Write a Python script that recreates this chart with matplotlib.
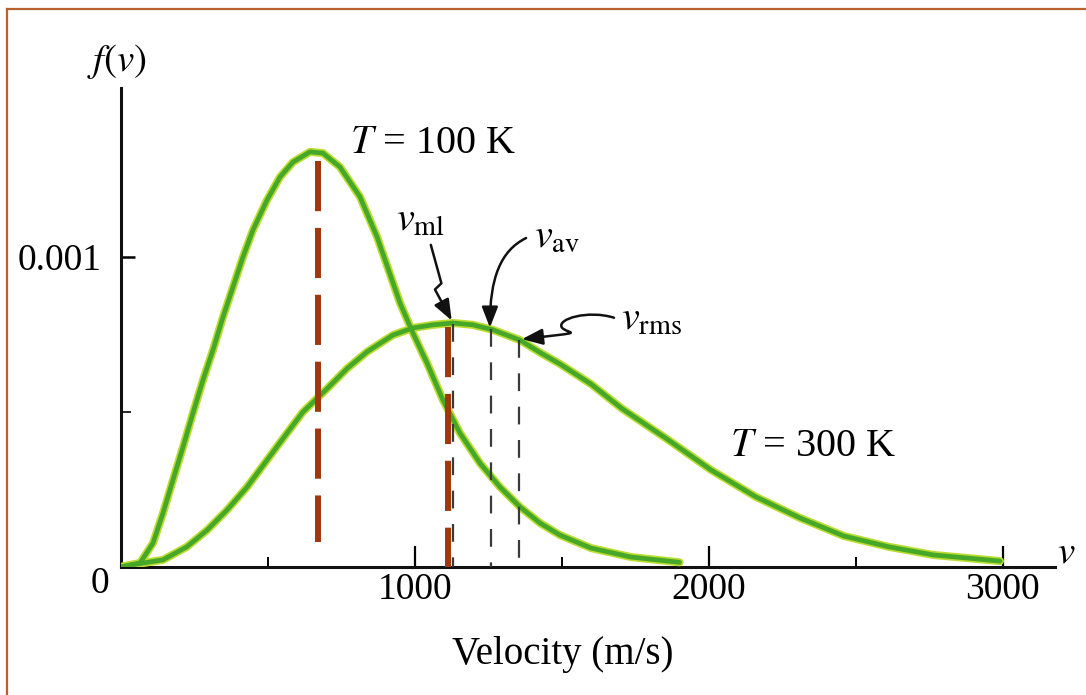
import matplotlib
matplotlib.use("Agg")
import matplotlib.pyplot as plt
from matplotlib.lines import Line2D
from matplotlib.patches import FancyArrowPatch
from matplotlib.path import Path
from matplotlib.ticker import FixedLocator

plt.rcParams["font.family"] = "serif"
plt.rcParams["font.serif"] = ["Liberation Serif", "DejaVu Serif"]
plt.rcParams["mathtext.fontset"] = "stix"

# curve values (v in m/s, f(v) in units of 1e-3 s/m)
v_100 = [0, 65, 109, 143, 177, 211, 245, 279, 313, 347, 381, 415, 449, 497,
         541, 585, 643, 687, 745, 813, 871, 949, 993, 1041, 1095, 1153, 1221,
         1289, 1357, 1425, 1493, 1599, 1735, 1900]
f_100 = [0, 0.013, 0.077, 0.174, 0.281, 0.387, 0.497, 0.603, 0.700, 0.806,
         0.903, 1.000, 1.087, 1.184, 1.258, 1.306, 1.339, 1.335, 1.290, 1.194,
         1.065, 0.852, 0.755, 0.658, 0.539, 0.432, 0.335, 0.258, 0.194, 0.142,
         0.103, 0.061, 0.032, 0.015]

v_300 = [0, 31, 143, 224, 293, 361, 429, 497, 565, 619, 701, 769, 837, 925,
         993, 1061, 1129, 1197, 1265, 1357, 1425, 1493, 1599, 1704, 1857, 2007,
         2160, 2310, 2459, 2612, 2762, 2990]
f_300 = [0, 0.006, 0.023, 0.065, 0.119, 0.184, 0.258, 0.345, 0.432, 0.500,
         0.575, 0.640, 0.694, 0.748, 0.771, 0.781, 0.787, 0.781, 0.765, 0.732,
         0.692, 0.655, 0.590, 0.511, 0.413, 0.313, 0.226, 0.158, 0.100, 0.065,
         0.039, 0.019]

# characteristic speeds
vp_100, vp_100_top, vp_100_bot = 670, 1.31, 0.08
vp_300, vp_300_top = 1112, 0.775
speeds_300 = [1129, 1259, 1354]          # v_ml, v_av, v_rms
speeds_300_top = [0.785, 0.767, 0.733]

x_major = [1000, 2000, 3000]
x_minor = [500, 1500, 2500]
y_major = [1.0]
y_minor = [0.5]

fig = plt.figure(figsize=(10.86, 6.95), dpi=100)
ax = fig.add_axes([0.1114, 0.1842, 0.8600, 0.6892])
ax.set_xlim(0, 3177)
ax.set_ylim(0, 1.545)

for s in ["top", "right"]:
    ax.spines[s].set_visible(False)
for s in ["left", "bottom"]:
    ax.spines[s].set_linewidth(2.2)
    ax.spines[s].set_color("#111111")

ax.xaxis.set_major_locator(FixedLocator(x_major))
ax.xaxis.set_minor_locator(FixedLocator(x_minor))
ax.yaxis.set_major_locator(FixedLocator(y_major))
ax.yaxis.set_minor_locator(FixedLocator(y_minor))
ax.set_xticklabels([str(t) for t in x_major])
ax.set_yticklabels(["0.001"])
ax.tick_params(axis="x", which="major", direction="in", length=15, width=1.6,
               labelsize=27, pad=4)
ax.tick_params(axis="x", which="minor", direction="in", length=7.5, width=1.4)
ax.tick_params(axis="y", which="major", direction="in", length=10, width=1.8,
               labelsize=27, pad=14)
ax.tick_params(axis="y", which="minor", direction="in", length=7, width=1.2)

# curves: lime halo plus green core
for vv, ff in [(v_100, f_100), (v_300, f_300)]:
    ax.plot(vv, ff, color="#bcdc30", lw=5.8, solid_capstyle="round",
            solid_joinstyle="round", zorder=3)
    ax.plot(vv, ff, color="#45a829", lw=3.4, solid_capstyle="round",
            solid_joinstyle="round", zorder=4)

brown = "#a0380c"
ax.plot([vp_100, vp_100], [vp_100_top, vp_100_bot], color=brown, lw=4.3,
        ls=(0, (8.4, 2.8)), zorder=5)
ax.plot([vp_300, vp_300], [vp_300_top, 0], color=brown, lw=4.3,
        ls=(0, (8.4, 2.8)), zorder=5)
for sv, st in zip(speeds_300, speeds_300_top):
    ax.plot([sv, sv], [st, 0], color="#3a3a3a", lw=1.6, ls=(0, (8, 7)),
            zorder=5)

ax.text(779, 1.367, "$T$ = 100 K", fontsize=29, ha="left", va="center")
ax.text(2071, 0.389, "$T$ = 300 K", fontsize=29, ha="left", va="center")

# speed labels with arrows
ax.text(935, 1.115, r"$v_{\rm ml}$", fontsize=29, ha="left", va="center")
ax.text(1405, 1.065, r"$v_{\rm av}$", fontsize=29, ha="left", va="center")
ax.text(1701, 0.795, r"$v_{\rm rms}$", fontsize=29, ha="left", va="center")

arrow_kw = dict(arrowstyle="-|>,head_length=0.9,head_width=0.35",
                color="#111111", lw=1.8, mutation_scale=14, zorder=6)
ml_path = Path([(1054, 1.039), (1090, 0.915), (1068, 0.895), (1125, 0.795)],
               [Path.MOVETO, Path.LINETO, Path.LINETO, Path.LINETO])
ax.add_patch(FancyArrowPatch(path=ml_path, **arrow_kw))
av_path = Path([(1378, 1.061), (1290, 1.02), (1255, 0.93), (1255, 0.772)],
               [Path.MOVETO, Path.CURVE4, Path.CURVE4, Path.CURVE4])
ax.add_patch(FancyArrowPatch(path=av_path, **arrow_kw))
rms_path = Path([(1677, 0.804), (1590, 0.83), (1480, 0.80),
                 (1500, 0.772), (1520, 0.75), (1600, 0.76),
                 (1364, 0.735)],
                [Path.MOVETO, Path.CURVE4, Path.CURVE4, Path.CURVE4,
                 Path.CURVE4, Path.CURVE4, Path.CURVE4])
ax.add_patch(FancyArrowPatch(path=rms_path, **arrow_kw))

# axis texts
ax.annotate("0", xy=(0, 0), xytext=(-15, -12), textcoords="offset points",
            fontsize=27, ha="center", va="center", annotation_clip=False)
fig.text(0.1077, 0.911, "$f(v)$", fontsize=28, ha="center", va="center")
fig.text(0.982, 0.205, "$v$", fontsize=28, ha="center", va="center")
fig.text(0.5184, 0.0576, "Velocity (m/s)", fontsize=28, ha="center",
         va="center")

# outer frame
frame_c = "#b8602e"
fig.add_artist(Line2D([0.0064, 1.0], [0.987, 0.987], color=frame_c, lw=1.6,
                      transform=fig.transFigure))
fig.add_artist(Line2D([0.0064, 0.0064], [0.0, 0.987], color=frame_c, lw=1.6,
                      transform=fig.transFigure))

fig.savefig("out.png", dpi=100)
